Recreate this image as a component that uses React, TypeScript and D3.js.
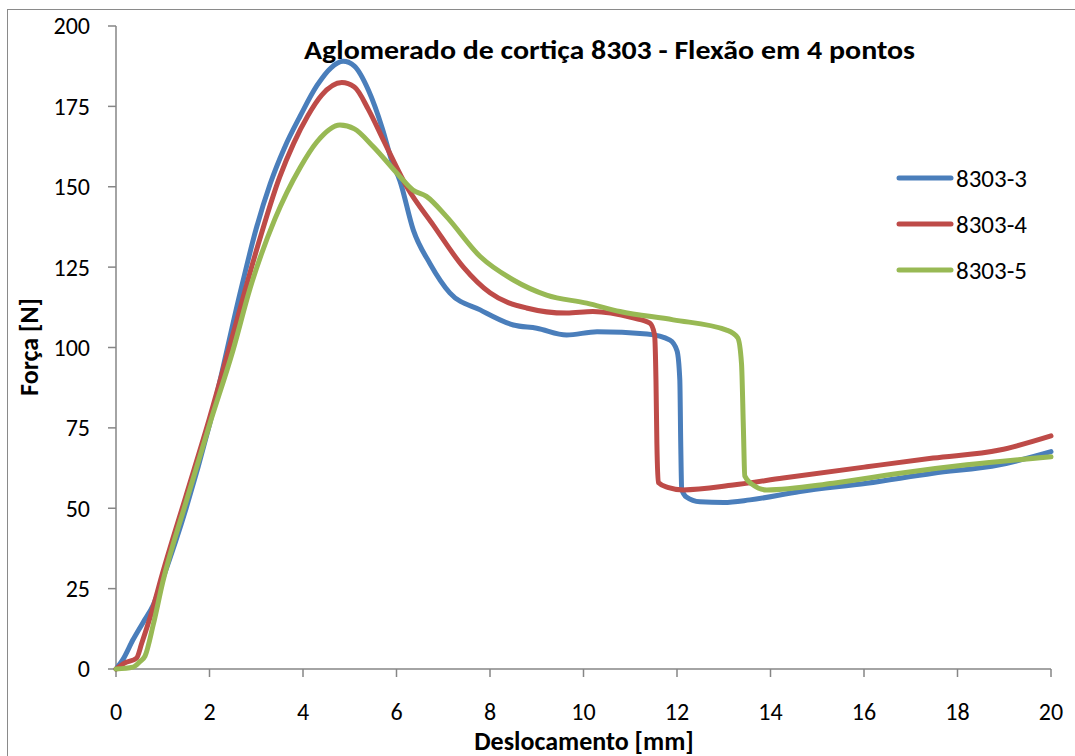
import React from "react";
import * as d3 from "d3";

const width = 1075;
const height = 756;
const margin = { left: 116, right: 24, top: 26, bottom: 87 };

const seriesNames = ["8303-3", "8303-4", "8303-5"];
const seriesColors = ["#4A7EBB", "#BE4B48", "#98B954"];

// [deslocamento mm, força N]
const s3: [number, number][] = [
  [0, 0], [0.15, 3], [0.36, 9], [0.58, 14.5], [0.8, 20], [1, 28], [1.5, 50], [2, 76],
  [2.68, 118.5], [3.0, 137], [3.3, 151], [3.6, 162], [3.94, 172], [4.3, 181.5], [4.6, 187],
  [4.86, 189], [5.1, 187.5], [5.4, 180], [5.7, 168], [5.9, 158], [6.07, 152], [6.36, 136.5],
  [6.72, 126], [7.14, 117], [7.79, 111.7], [8.5, 107], [9.0, 106], [9.64, 103.9],
  [10.29, 104.9], [11.36, 104.2], [11.85, 102.3], [12.0, 99], [12.06, 90], [12.08, 70],
  [12.1, 56], [12.2, 53.5], [12.49, 52], [13.0, 51.8], [13.56, 52.6], [14.63, 55.2],
  [16.06, 57.8], [17.48, 60.9], [18.9, 63.5], [20, 67.6]
];

const s4: [number, number][] = [
  [0, 0], [0.19, 1.9], [0.44, 3.4], [0.55, 8], [0.75, 17], [1, 30], [1.5, 54], [2, 78],
  [2.5, 104], [3, 130], [3.5, 153], [3.8, 163.5], [4.1, 172], [4.4, 178.5], [4.83, 182.4],
  [5.1, 181], [5.4, 174], [5.72, 164.5], [6.22, 150], [6.79, 138], [7.43, 125], [8.0, 117],
  [8.78, 112.3], [9.64, 110.7], [10.2, 111.2], [11.06, 109.2], [11.42, 107.6], [11.52, 104],
  [11.55, 90], [11.57, 70], [11.6, 58], [11.8, 56.5], [12.13, 55.7], [13.2, 57.2],
  [14.27, 59.4], [16.06, 62.9], [17.48, 65.6], [18.9, 68.1], [20, 72.5]
];

const s5: [number, number][] = [
  [0, 0], [0.36, 0.6], [0.51, 2.3], [0.62, 4], [0.8, 14], [1, 27], [1.5, 52], [2, 76],
  [2.5, 99], [2.87, 118.5], [3.4, 140], [3.94, 156], [4.3, 164], [4.79, 169.2], [5.1, 168],
  [5.5, 162.5], [6.07, 153.2], [6.35, 149], [6.64, 147], [7.07, 140.7], [7.79, 128.3],
  [8.5, 121], [9.21, 116.3], [10.07, 113.8], [10.78, 111.2], [11.92, 108.6], [13.06, 105.4],
  [13.3, 103], [13.38, 95], [13.42, 75], [13.45, 60], [13.6, 57.5], [13.92, 55.7],
  [15.34, 57.8], [16.77, 60.9], [18.2, 63.5], [20, 66]
];

const seriesData = [s3, s4, s5];
const xTicks = [0, 2, 4, 6, 8, 10, 12, 14, 16, 18, 20];
const yTicks = [0, 25, 50, 75, 100, 125, 150, 175, 200];

const font = "Carlito, Lato, 'Open Sans', sans-serif";
const axisColor = "#868686";

export default function App() {
  const x = d3.scaleLinear().domain([0, 20]).range([margin.left, width - margin.right]);
  const y = d3.scaleLinear().domain([0, 200]).range([height - margin.bottom, margin.top]);

  const line = d3
    .line<[number, number]>()
    .x(d => x(d[0]))
    .y(d => y(d[1]))
    .curve(d3.curveMonotoneX);

  return (
    <svg
      width={width}
      height={height}
      style={{ position: "absolute", left: 0, top: 0, background: "#fff" }}
      fontFamily={font}
    >
      <rect x={7.5} y={9.5} width={width + 20} height={height + 20} fill="none" stroke="#8a8a8a" />

      {/* axes */}
      <line x1={x(0)} x2={x(0)} y1={y(0)} y2={y(200)} stroke={axisColor} strokeWidth={1.5} />
      <line x1={x(0)} x2={x(20)} y1={y(0)} y2={y(0)} stroke={axisColor} strokeWidth={1.5} />
      {yTicks.map(t => (
        <g key={"y" + t}>
          <line x1={x(0) - 8} x2={x(0)} y1={y(t)} y2={y(t)} stroke={axisColor} strokeWidth={1.5} />
          <text x={90} y={y(t)} dy="0.35em" textAnchor="end" fontSize={24} fill="#000">
            {t}
          </text>
        </g>
      ))}
      {xTicks.map(t => (
        <g key={"x" + t}>
          <line x1={x(t)} x2={x(t)} y1={y(0)} y2={y(0) + 8} stroke={axisColor} strokeWidth={1.5} />
          <text x={x(t)} y={720} textAnchor="middle" fontSize={24} fill="#000">
            {t}
          </text>
        </g>
      ))}

      {/* series */}
      {seriesData.map((d, i) => (
        <path
          key={seriesNames[i]}
          d={line(d) || ""}
          fill="none"
          stroke={seriesColors[i]}
          strokeWidth={5}
          strokeLinejoin="round"
          strokeLinecap="round"
        />
      ))}

      {/* title & labels */}
      <text
        x={304}
        y={59}
        fontSize={27}
        fontWeight="bold"
        textLength={611}
        lengthAdjust="spacingAndGlyphs"
      >
        Aglomerado de cortiça 8303 - Flexão em 4 pontos
      </text>
      <text x={584} y={750} textAnchor="middle" fontSize={26} fontWeight="bold">
        Deslocamento [mm]
      </text>
      <text
        transform={`translate(38, 347) rotate(-90)`}
        textAnchor="middle"
        fontSize={26}
        fontWeight="bold"
      >
        Força [N]
      </text>

      {/* legend */}
      {seriesNames.map((n, i) => (
        <g key={"leg" + n} transform={`translate(0, ${178 + i * 46})`}>
          <line x1={899} x2={951} y1={0} y2={0} stroke={seriesColors[i]} strokeWidth={5} strokeLinecap="round" />
          <text x={956} y={0} dy="0.35em" fontSize={25}>
            {n}
          </text>
        </g>
      ))}
    </svg>
  );
}
